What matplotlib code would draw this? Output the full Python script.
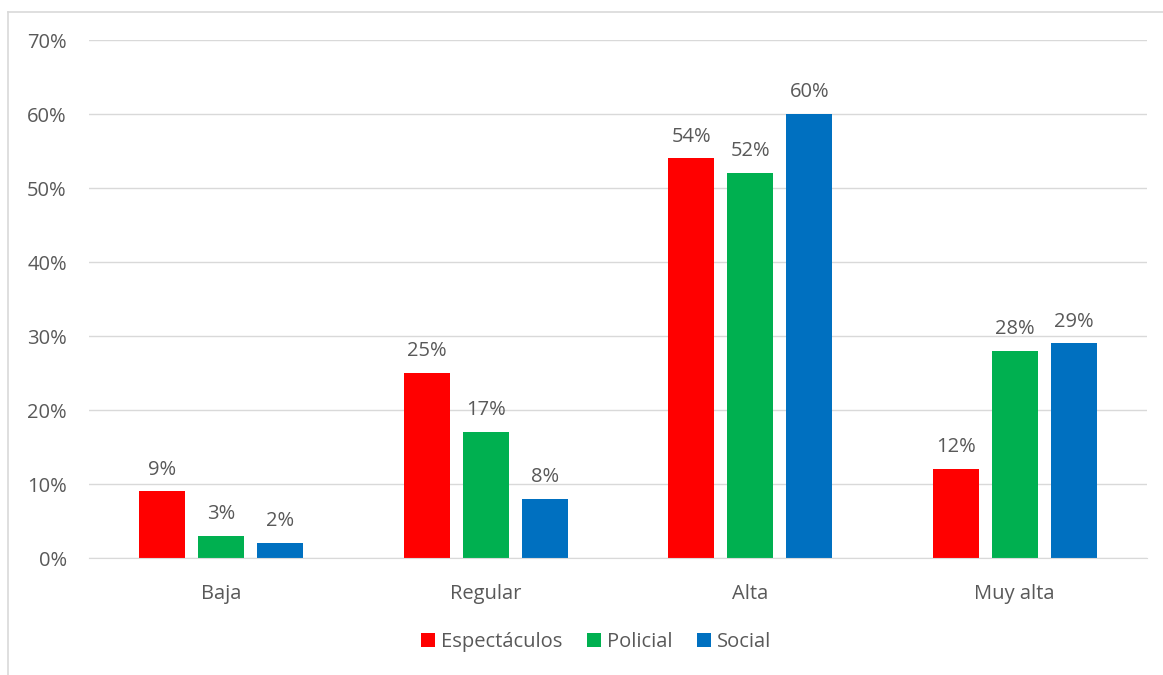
import matplotlib
matplotlib.use("Agg")
import matplotlib.pyplot as plt
from matplotlib.lines import Line2D
from matplotlib.patches import Patch
import numpy as np

categories = ["Baja", "Regular", "Alta", "Muy alta"]
series_names = ["Espectáculos", "Policial", "Social"]
espectaculos = [9, 25, 54, 12]
policial = [3, 17, 52, 28]
social = [2, 8, 60, 29]
colors = ["#FF0000", "#00B050", "#0070C0"]
yticks = [0, 10, 20, 30, 40, 50, 60, 70]

plt.rcParams['font.family'] = ['Open Sans', 'DejaVu Sans']
txt = "#595959"
fs = 14.5

fig = plt.figure(figsize=(11.63, 6.75), dpi=100)
ax = fig.add_axes([89/1163, 1-558/675, (1147-89)/1163, (558-40)/675])

x = np.arange(len(categories))
width = 46/264.5
step = 59/264.5
data = [espectaculos, policial, social]
for i, (vals, c, name) in enumerate(zip(data, colors, series_names)):
    pos = x + (i-1)*step
    bars = ax.bar(pos, vals, width, color=c, label=name, zorder=3)
    for b, v in zip(bars, vals):
        ax.text(b.get_x()+b.get_width()/2, v+1.6, f"{v}%", ha='center', va='bottom',
                fontsize=fs, color=txt)

ax.set_xlim(-0.5, 3.5)
ax.set_ylim(0, 70)
ax.set_yticks(yticks)
ax.set_yticklabels([f"{t}%" for t in yticks], fontsize=fs, color=txt)
ax.set_xticks(x)
ax.set_xticklabels(categories, fontsize=fs, color=txt)
ax.tick_params(axis='both', length=0)
ax.tick_params(axis='y', pad=16)
ax.tick_params(axis='x', pad=19)
ax.grid(axis='y', color='#d9d9d9', linewidth=1, zorder=0)
for s in ['top', 'right', 'left']:
    ax.spines[s].set_visible(False)
ax.spines['bottom'].set_color('#d9d9d9')
ax.spines['bottom'].set_zorder(4)

handles = [Patch(facecolor=c, label=n) for c, n in zip(colors, series_names)]
leg = fig.legend(handles=handles, loc='center', bbox_to_anchor=(596/1163, 1-642/675),
                 ncol=3, frameon=False, fontsize=fs, handlelength=0.7, handleheight=0.7,
                 handletextpad=0.3, columnspacing=1.2)
for t in leg.get_texts():
    t.set_color(txt)

fig.add_artist(Line2D([7.5/1163, 7.5/1163], [0, 1-11.5/675], transform=fig.transFigure,
                      color='#d9d9d9', linewidth=1.2))
fig.add_artist(Line2D([7.5/1163, 1], [1-11.5/675, 1-11.5/675], transform=fig.transFigure,
                      color='#d9d9d9', linewidth=1.2))

fig.savefig("out.png", dpi=100)
